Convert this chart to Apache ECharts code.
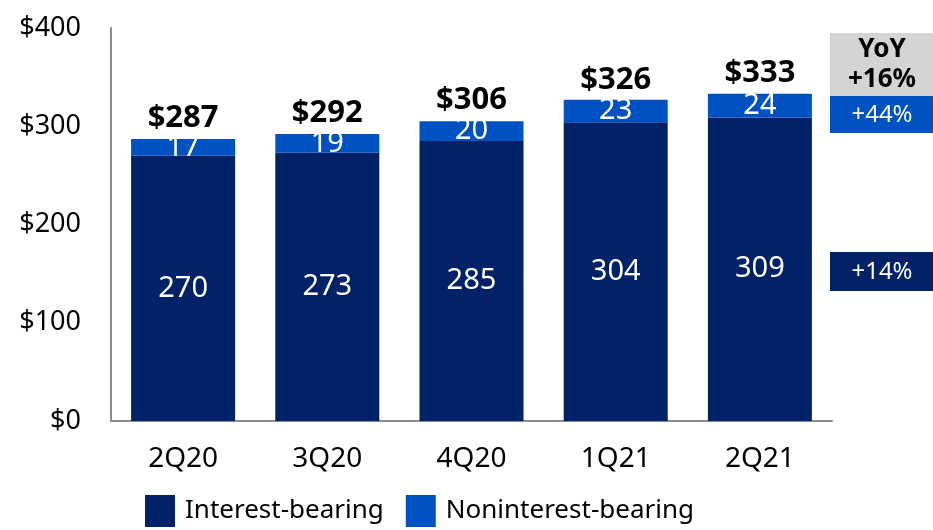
<!DOCTYPE html>
<html>
<head>
<meta charset="utf-8">
<script src="https://cdn.jsdelivr.net/npm/echarts@6/dist/echarts.min.js"></script>
<style>
  html, body { margin: 0; padding: 0; background: #fff; }
  #chart { width: 933px; height: 530px; }
</style>
</head>
<body>
<div id="chart"></div>
<script>
var quarters = ['2Q20', '3Q20', '4Q20', '1Q21', '2Q21'];
var interestBearing = [270, 273, 285, 304, 309];
var nonInterestBearing = [17, 19, 20, 23, 24];
var totals = [287, 292, 306, 326, 333];
var yoyTotal = '+16%';
var yoyNonInterest = '+44%';
var yoyInterest = '+14%';

var dark = '#012169';
var blue = '#0052c2';
var font = 'Noto Sans';

var myChart = echarts.init(document.getElementById('chart'));
var option = {
  backgroundColor: '#fff',
  animation: false,
  textStyle: { fontFamily: font },
  grid: { left: 111, right: 101, top: 28, bottom: 109 },
  legend: {
    bottom: 3,
    left: 145,
    padding: 0,
    icon: 'rect',
    itemWidth: 30,
    itemHeight: 32,
    itemGap: 22,
    textStyle: { fontSize: 26, color: '#000', fontFamily: font, padding: [0, 0, 0, 5] },
    data: ['Interest-bearing', 'Noninterest-bearing']
  },
  xAxis: {
    type: 'category',
    data: quarters,
    axisLine: { lineStyle: { color: '#8c8c8c', width: 2 } },
    axisTick: { show: false },
    axisLabel: { fontSize: 28, color: '#000', margin: 24 }
  },
  yAxis: {
    type: 'value',
    min: 0,
    max: 400,
    interval: 100,
    splitLine: { show: false },
    axisLine: { show: true, lineStyle: { color: '#8c8c8c', width: 2 } },
    axisTick: { show: false },
    axisLabel: { fontSize: 27, color: '#000', margin: 30, formatter: '${value}' }
  },
  series: [
    {
      name: 'Interest-bearing',
      type: 'bar',
      stack: 'dep',
      barWidth: 104,
      itemStyle: { color: dark },
      label: { show: true, position: 'inside', color: '#fff', fontSize: 29 },
      data: interestBearing
    },
    {
      name: 'Noninterest-bearing',
      type: 'bar',
      stack: 'dep',
      barWidth: 104,
      itemStyle: { color: blue },
      label: { show: true, position: 'inside', color: '#fff', fontSize: 29 },
      data: nonInterestBearing
    },
    {
      name: 'Total',
      type: 'scatter',
      symbolSize: 0,
      silent: true,
      itemStyle: { opacity: 1 },
      label: {
        show: true,
        position: 'top',
        distance: 5,
        color: '#000',
        opacity: 1,
        fontSize: 31,
        fontWeight: 'bold',
        formatter: function (p) { return '$' + p.value; }
      },
      data: totals
    }
  ],
  graphic: [
    { type: 'rect', shape: { x: 830, y: 33, width: 103, height: 63 }, style: { fill: '#d4d4d4' } },
    { type: 'text', x: 882, y: 50, style: { text: 'YoY', fontSize: 26, fontWeight: 'bold', fill: '#000', align: 'center', verticalAlign: 'middle', fontFamily: font } },
    { type: 'text', x: 882, y: 80, style: { text: yoyTotal, fontSize: 26, fontWeight: 'bold', fill: '#000', align: 'center', verticalAlign: 'middle', fontFamily: font } },
    { type: 'rect', shape: { x: 830, y: 96, width: 103, height: 37 }, style: { fill: blue } },
    { type: 'text', x: 882, y: 115, style: { text: yoyNonInterest, fontSize: 24, fill: '#fff', align: 'center', verticalAlign: 'middle', fontFamily: font } },
    { type: 'rect', shape: { x: 830, y: 252, width: 103, height: 39 }, style: { fill: dark } },
    { type: 'text', x: 882, y: 272, style: { text: yoyInterest, fontSize: 24, fill: '#fff', align: 'center', verticalAlign: 'middle', fontFamily: font } }
  ]
};
option && myChart.setOption(option);
</script>
</body>
</html>
